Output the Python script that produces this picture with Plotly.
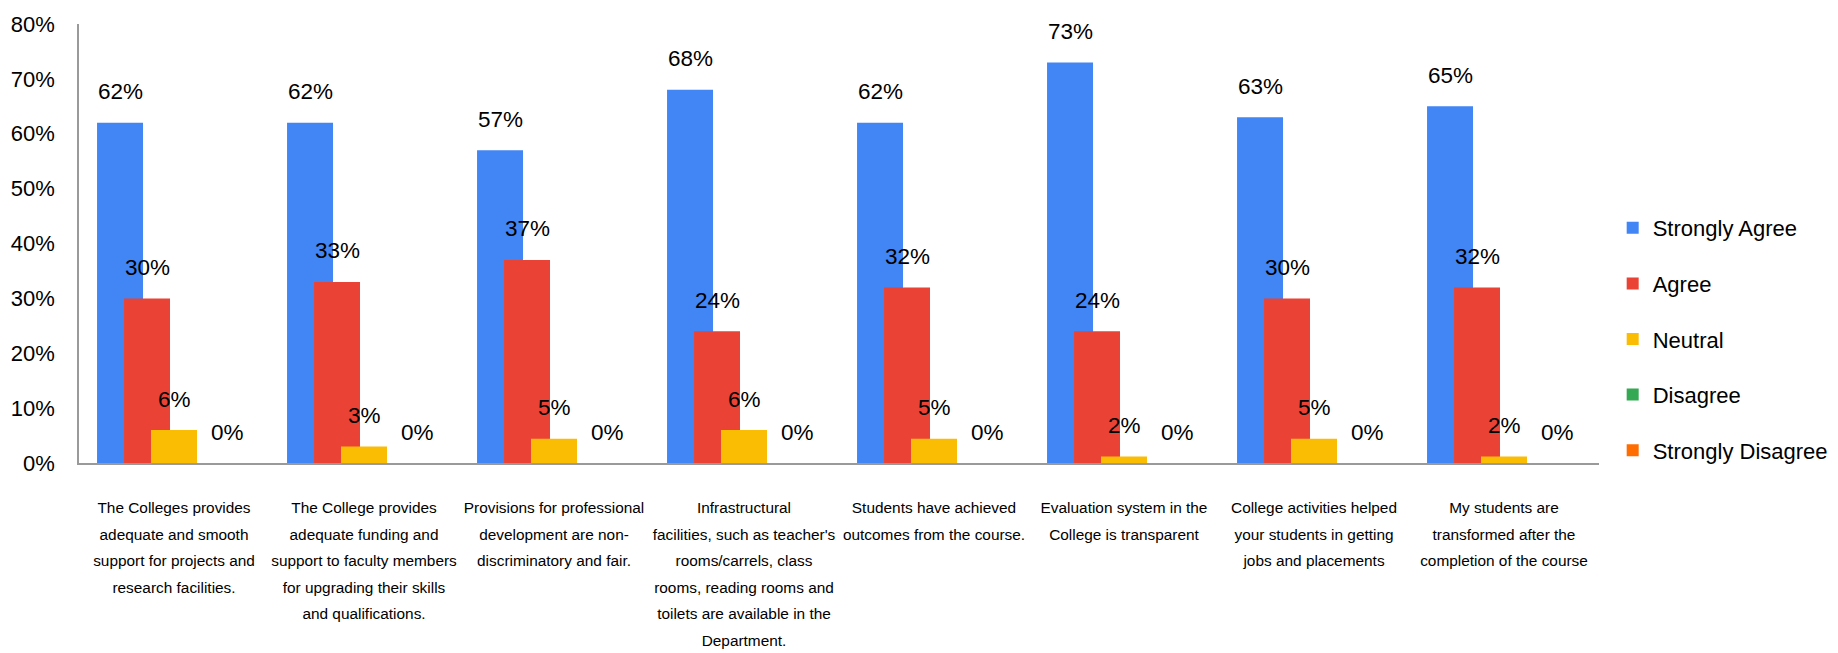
import plotly.graph_objects as go

# ---- data ----
categories = [
    "The Colleges provides<br>adequate and smooth<br>support for projects and<br>research facilities.",
    "The College provides<br>adequate funding and<br>support to faculty members<br>for upgrading their skills<br>and qualifications.",
    "Provisions for professional<br>development are non-<br>discriminatory and fair.",
    "Infrastructural<br>facilities, such as teacher's<br>rooms/carrels, class<br>rooms, reading rooms and<br>toilets are available in the<br>Department.",
    "Students have achieved<br>outcomes from the course.",
    "Evaluation system in the<br>College is transparent",
    "College activities helped<br>your students in getting<br>jobs and placements",
    "My students are<br>transformed after the<br>completion of the course",
]
series_names = ["Strongly Agree", "Agree", "Neutral", "Disagree", "Strongly Disagree"]
strongly_agree = [62, 62, 57, 68, 62, 73, 63, 65]
agree = [30, 33, 37, 24, 32, 24, 30, 32]
neutral = [6, 3, 4.4, 6, 4.4, 1.2, 4.4, 1.2]
disagree = [0, 0, 0, 0, 0, 0, 0, 0]
strongly_disagree = [0, 0, 0, 0, 0, 0, 0, 0]

strongly_agree_labels = ["62%", "62%", "57%", "68%", "62%", "73%", "63%", "65%"]
agree_labels = ["30%", "33%", "37%", "24%", "32%", "24%", "30%", "32%"]
neutral_labels = ["6%", "3%", "5%", "6%", "5%", "2%", "5%", "2%"]
disagree_labels = [None] * 8
strongly_disagree_labels = ["0%", "0%", "0%", "0%", "0%", "0%", "0%", "0%"]

y_tick_values = [0, 10, 20, 30, 40, 50, 60, 70, 80]
y_tick_labels = ["0%", "10%", "20%", "30%", "40%", "50%", "60%", "70%", "80%"]

colors = ["#4285F4", "#EA4335", "#FBBC04", "#34A853", "#FF6D01"]

# ---- styling ----
FONT = "Liberation Sans, Arial, sans-serif"
BAR_W = 0.242
STEP = 0.142
START = -(4 * STEP + BAR_W) / 2
CAT_GLYPH_PX = 15.4

series_values = [strongly_agree, agree, neutral, disagree, strongly_disagree]
series_labels = [strongly_agree_labels, agree_labels, neutral_labels,
                 disagree_labels, strongly_disagree_labels]
xpos = list(range(len(categories)))

# category tick text: glyphs smaller than the line pitch (wide line spacing)
cat_ticktext = [
    "<br>".join(f'<span style="font-size:{CAT_GLYPH_PX}px">{ln}</span>' for ln in c.split("<br>"))
    for c in categories
]

fig = go.Figure()
annotations = []
for k, (name, vals, labs, col) in enumerate(zip(series_names, series_values, series_labels, colors)):
    off = START + k * STEP
    fig.add_trace(go.Bar(
        x=xpos, y=vals, name=name, offset=off, width=BAR_W,
        marker=dict(color=col, line=dict(width=0)),
        legendgroup=name,
    ))
    for i, (v, t) in enumerate(zip(vals, labs)):
        if t is None:
            continue
        annotations.append(dict(
            x=i + off + BAR_W / 2, y=v, xref="x", yref="y",
            text=t, showarrow=False, yanchor="middle", xanchor="center",
            yshift=31, font=dict(family=FONT, size=22.5, color="#000000"),
        ))

fig.update_layout(
    width=1838, height=653, autosize=False,
    template="none",
    barmode="overlay",
    paper_bgcolor="white", plot_bgcolor="white",
    margin=dict(l=79, r=239, t=24, b=190, autoexpand=False),
    font=dict(family=FONT, color="#000000"),
    annotations=annotations,
    legend=dict(
        x=1.009, xanchor="left", y=0.2825, yanchor="middle",
        font=dict(family=FONT, size=22, color="#000000"),
        tracegroupgap=24, traceorder="grouped",
        bgcolor="rgba(0,0,0,0)",
    ),
    showlegend=True,
)
fig.update_xaxes(
    range=[-0.5, len(categories) - 0.5],
    tickmode="array", tickvals=xpos, ticktext=cat_ticktext,
    tickfont=dict(family=FONT, size=20.4, color="#000000"),
    showline=True, linecolor="#9a9a9a", linewidth=1.5,
    showgrid=False, zeroline=False, ticks="", ticklabelstandoff=24,
    tickangle=0,
)
fig.update_yaxes(
    range=[0, 80],
    tickmode="array", tickvals=y_tick_values, ticktext=y_tick_labels,
    tickfont=dict(family=FONT, size=22, color="#000000"),
    showline=True, linecolor="#9a9a9a", linewidth=1.5,
    showgrid=False, zeroline=False, ticks="", ticklabelstandoff=18,
)

fig.write_html("out.html", config={"displayModeBar": False},
               post_script="document.body.style.margin='0';")
